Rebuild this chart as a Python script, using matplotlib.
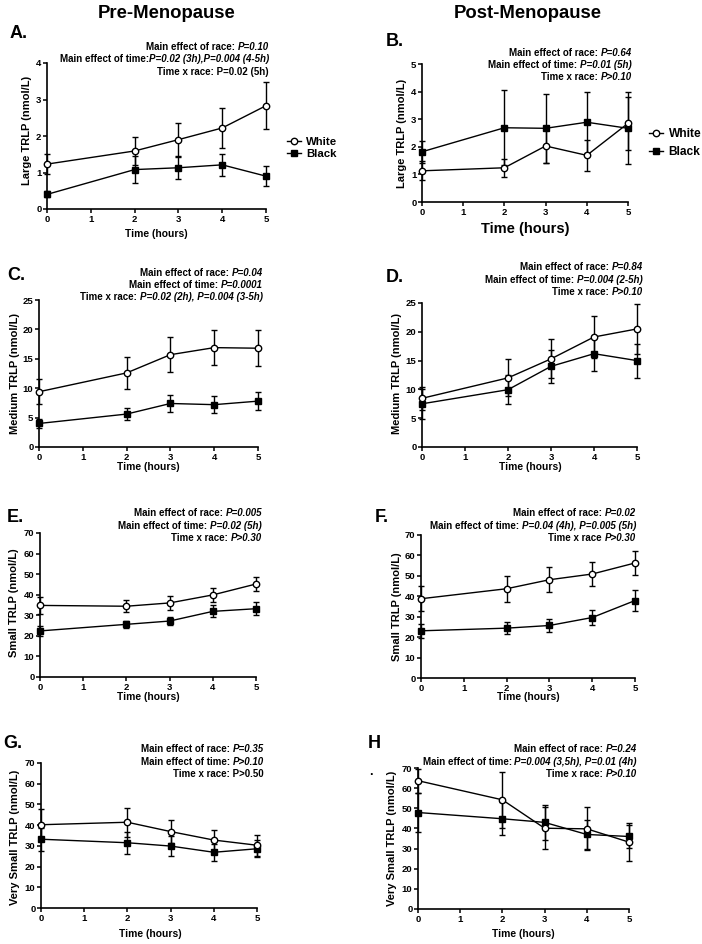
import matplotlib
matplotlib.use("Agg")
import matplotlib.pyplot as plt
from matplotlib.lines import Line2D

# ---- data ----
time = [0, 2, 3, 4, 5]

a_white = [1.23, 1.59, 1.90, 2.22, 2.83]
a_white_err = [0.27, 0.38, 0.46, 0.56, 0.64]
a_black = [0.40, 1.08, 1.13, 1.21, 0.90]
a_black_err = [0.08, 0.38, 0.30, 0.31, 0.27]

b_white = [1.13, 1.24, 2.03, 1.69, 2.85]
b_white_err = [0.35, 0.33, 0.60, 0.56, 0.95]
b_black = [1.82, 2.69, 2.67, 2.89, 2.67]
b_black_err = [0.40, 1.35, 1.25, 1.10, 1.30]

c_white = [9.4, 12.6, 15.7, 16.9, 16.8]
c_white_err = [2.1, 2.7, 3.0, 3.0, 3.1]
c_black = [4.0, 5.6, 7.4, 7.2, 7.8]
c_black_err = [0.8, 1.05, 1.5, 1.45, 1.5]

d_white = [8.45, 12.0, 15.3, 19.1, 20.5]
d_white_err = [2.0, 3.2, 3.4, 3.6, 4.4]
d_black = [7.5, 9.95, 14.0, 16.2, 15.0]
d_black_err = [2.6, 2.5, 2.9, 3.0, 2.95]

e_white = [34.8, 34.4, 36.0, 39.9, 45.2]
e_white_err = [4.0, 2.9, 3.3, 3.4, 3.5]
e_black = [22.4, 25.6, 27.2, 31.9, 33.2]
e_black_err = [2.6, 1.8, 1.8, 2.9, 3.3]

f_white = [38.8, 43.7, 48.1, 50.9, 56.3]
f_white_err = [6.2, 6.4, 6.0, 5.9, 5.9]
f_black = [23.1, 24.4, 25.7, 29.6, 37.9]
f_black_err = [3.3, 3.1, 3.4, 3.8, 5.3]

g_white = [40.2, 41.4, 36.9, 32.8, 30.3]
g_white_err = [7.6, 7.0, 5.5, 5.0, 5.1]
g_black = [33.2, 31.5, 29.9, 26.9, 28.6]
g_black_err = [5.5, 5.4, 5.0, 4.0, 4.0]

h_white = [63.7, 54.2, 40.1, 39.8, 33.2]
h_white_err = [6.0, 14.0, 10.5, 10.6, 9.3]
h_black = [47.9, 44.8, 43.0, 37.0, 36.0]
h_black_err = [9.6, 8.3, 8.8, 7.0, 5.6]

a_stats = [("Main effect of race: ", "P=0.10"),
           ("Main effect of time:", "P=0.02 (3h),P=0.004 (4-5h)"),
           ("Time x race: P=0.02 (5h)", "")]
b_stats = [("Main effect of race: ", "P=0.64"),
           ("Main effect of time: ", "P=0.01 (5h)"),
           ("Time x race: ", "P>0.10")]
c_stats = [("Main effect of race: ", "P=0.04"),
           ("Main effect of time: ", "P=0.0001"),
           ("Time x race: ", "P=0.02 (2h), P=0.004 (3-5h)")]
d_stats = [("Main effect of race: ", "P=0.84"),
           ("Main effect of time: ", "P=0.004 (2-5h)"),
           ("Time x race: ", "P>0.10")]
e_stats = [("Main effect of race: ", "P=0.005"),
           ("Main effect of time: ", "P=0.02 (5h)"),
           ("Time x race: ", "P>0.30")]
f_stats = [("Main effect of race: ", "P=0.02"),
           ("Main effect of time: ", "P=0.04 (4h), P=0.005 (5h)"),
           ("Time x race ", "P>0.30")]
g_stats = [("Main effect of race: ", "P=0.35"),
           ("Main effect of time: ", "P>0.10"),
           ("Time x race: P>0.50", "")]
h_stats = [("Main effect of race: ", "P=0.24"),
           ("Main effect of time: ", "P=0.004 (3,5h), P=0.01 (4h)"),
           ("Time x race: ", "P>0.10")]

W, H = 702, 944


def fx(x):
    return x / W


def fy(y):
    return 1 - y / H


def draw_series(ax, y, err, white):
    kw = dict(fmt="-", color="black", lw=1.0, elinewidth=1.0,
              capsize=2.2, capthick=1.0, marker="o" if white else "s",
              ms=4.6 if white else 4.0, mec="black",
              mfc="white" if white else "black", mew=1.0,
              zorder=4 if white else 3)
    cont = ax.errorbar(time, y, yerr=err, **kw)
    for art in cont.get_children():
        art.set_clip_on(False)
    return cont


def stat_lines(fig, ax, right, ys, lines, size=7):
    for (plain, ital), y in zip(lines, ys):
        if ital:
            t = fig.text(fx(right), fy(y), ital, ha="right", va="center",
                         style="italic", fontsize=size, fontweight="bold")
            ax.annotate(plain, xy=(0, 0.5), xycoords=t, ha="right",
                        va="center", fontsize=size, fontweight="bold",
                        annotation_clip=False)
        else:
            fig.text(fx(right), fy(y), plain, ha="right", va="center",
                     fontsize=size, fontweight="bold")


plt.rcParams.update({
    "font.family": ["Liberation Sans", "DejaVu Sans"],
    "font.weight": "bold",
    "axes.labelweight": "bold",
    "axes.linewidth": 1.2,
    "xtick.major.width": 1.1,
    "ytick.major.width": 1.1,
    "xtick.major.size": 3,
    "ytick.major.size": 3,
    "xtick.major.pad": 1.5,
    "ytick.major.pad": 1.0,
    "xtick.labelsize": 6.8,
    "ytick.labelsize": 6.8,
})

fig = plt.figure(figsize=(7.02, 9.44), dpi=100)

panels = [
    # letter, box(l, r, top, bottom), ymax, ystep, ylabel, white, werr, black, berr, stats, stat_right, stat_ys
    ("A.", (47, 266, 63, 209), 4, 1, "Large TRLP (nmol/L)", a_white, a_white_err, a_black, a_black_err,
     a_stats, 269, (47, 59, 72), (10, 33), (27, 130), (156, 234, 7.4)),
    ("B.", (422, 628, 64, 202), 5, 1, "Large TRLP (nmol/L)", b_white, b_white_err, b_black, b_black_err,
     b_stats, 632, (53, 65, 77), (386, 42), (402, 133), (525, 229, 10.5)),
    ("C.", (39, 258, 300, 447), 25, 5, "Medium TRLP (nmol/L)", c_white, c_white_err, c_black, c_black_err,
     c_stats, 263, (273, 285, 297), (7, 275), (15, 373), (148, 467, 7.4)),
    ("D.", (422, 637, 303, 447), 25, 5, "Medium TRLP (nmol/L)", d_white, d_white_err, d_black, d_black_err,
     d_stats, 643, (267, 280, 292), (386, 278), (397, 373), (530, 467, 7.4)),
    ("E.", (40, 256, 533, 677), 70, 10, "Small TRLP (nmol/L)", e_white, e_white_err, e_black, e_black_err,
     e_stats, 262, (513, 526, 538), (7, 517), (14, 603), (148, 697, 7.4)),
    ("F.", (421, 635, 535, 678), 70, 10, "Small TRLP (nmol/L)", f_white, f_white_err, f_black, f_black_err,
     f_stats, 636, (513, 526, 538), (375, 517), (397, 607), (528, 697, 7.4)),
    ("G.", (41, 257, 763, 908), 70, 10, "Very Small TRLP (nmol/L)", g_white, g_white_err, g_black, g_black_err,
     g_stats, 264, (749, 762, 774), (3, 743), (15, 837), (150, 934, 7.4)),
    ("H", (418, 629, 768, 909), 70, 10, "Very Small TRLP (nmol/L)", h_white, h_white_err, h_black, h_black_err,
     h_stats, 637, (749, 762, 774), (368, 743), (392, 838), (523, 934, 7.4)),
]

axes = []
for (letter, box, ymax, ystep, ylabel, wv, we, bv, be, stats, sr, sys_,
     lpos, ylpos, xlpos) in panels:
    l, r, t, b = box
    ax = fig.add_axes([fx(l), fy(b), (r - l) / W, (b - t) / H])
    ax.set_xlim(0, 5)
    ax.set_ylim(0, ymax)
    ax.set_xticks(range(0, 6))
    ax.set_yticks(range(0, ymax + 1, ystep))
    for s in ("top", "right"):
        ax.spines[s].set_visible(False)
    ax.patch.set_alpha(0)
    draw_series(ax, bv, be, white=False)
    draw_series(ax, wv, we, white=True)
    fig.text(fx(ylpos[0]), fy(ylpos[1]), ylabel, rotation=90, ha="center",
             va="center", fontsize=8)
    fig.text(fx(xlpos[0]), fy(xlpos[1]), "Time (hours)", ha="center",
             va="center", fontsize=xlpos[2])
    fig.text(fx(lpos[0]), fy(lpos[1]), letter, ha="left", va="center",
             fontsize=13)
    stat_lines(fig, ax, sr, sys_, stats)
    axes.append(ax)

fig.text(fx(371), fy(772), ".", ha="center", va="center", fontsize=9)

fig.text(fx(167), fy(13), "Pre-Menopause", ha="center", va="center", fontsize=13.3)
fig.text(fx(528), fy(13), "Post-Menopause", ha="center", va="center", fontsize=13.3)

handles = [
    Line2D([], [], color="black", lw=1.0, marker="o", ms=4.6, mfc="white", mec="black"),
    Line2D([], [], color="black", lw=1.0, marker="s", ms=4.0, mfc="black", mec="black"),
]
axes[0].legend(handles, ["White", "Black"], loc="center left",
               bbox_to_anchor=(fx(287), fy(148)), bbox_transform=fig.transFigure,
               frameon=False, fontsize=8.2, handlelength=1.2, handletextpad=0.45,
               labelspacing=0.25, borderpad=0, borderaxespad=0)
axes[1].legend(handles, ["White", "Black"], loc="center left",
               bbox_to_anchor=(fx(649), fy(143)), bbox_transform=fig.transFigure,
               frameon=False, fontsize=8.6, handlelength=1.2, handletextpad=0.45,
               labelspacing=0.45, borderpad=0, borderaxespad=0)

fig.savefig("out.png", dpi=100)
